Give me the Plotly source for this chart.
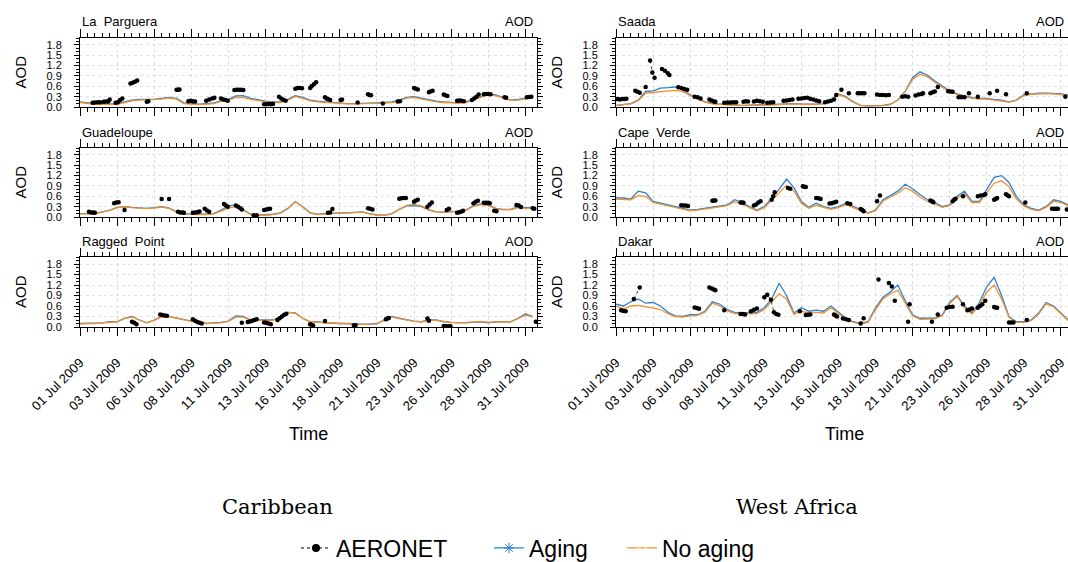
import numpy as np
import pandas as pd
import plotly.graph_objects as go

# ---------------- data ----------------
start = pd.Timestamp("2009-07-01")
model_days = np.arange(0, 31, 0.5)  # 12-hourly model output, days since 01 Jul 2009

sites = ["La  Parguera", "Saada", "Guadeloupe", "Cape  Verde", "Ragged  Point", "Dakar"]
region_labels = ["Caribbean", "West Africa"]
series_names = ["AERONET", "Aging", "No aging"]

# La Parguera
lp_aging = [0.15,0.12,0.10,0.10,0.08,0.10,0.15,0.20,0.22,0.22,
            0.22,0.25,0.28,0.25,0.12,0.10,0.08,0.10,0.12,0.18,
            0.22,0.32,0.33,0.25,0.20,0.17,0.15,0.15,0.22,0.33,
            0.28,0.20,0.17,0.15,0.13,0.12,0.10,0.10,0.10,0.12,
            0.12,0.13,0.15,0.20,0.28,0.30,0.25,0.20,0.17,0.15,
            0.13,0.12,0.15,0.22,0.30,0.38,0.35,0.28,0.20,0.22,
            0.25,0.30]
lp_noaging = [0.13,0.10,0.08,0.08,0.07,0.08,0.13,0.18,0.20,0.21,
              0.21,0.23,0.26,0.23,0.10,0.08,0.07,0.08,0.10,0.16,
              0.20,0.27,0.27,0.22,0.18,0.15,0.13,0.13,0.20,0.30,
              0.25,0.18,0.15,0.13,0.12,0.11,0.09,0.09,0.09,0.10,
              0.10,0.11,0.13,0.18,0.26,0.28,0.23,0.18,0.15,0.13,
              0.12,0.11,0.13,0.20,0.28,0.36,0.33,0.26,0.19,0.20,
              0.23,0.27]
lp_obs_day = [0.85,1.0,1.2,1.35,None,1.6,1.75,1.9,2.0,None,2.4,2.55,2.7,2.85,None,
              3.4,3.55,3.7,3.85,None,4.5,4.6,None,6.5,6.6,6.7,None,7.3,7.45,7.6,7.75,None,
              8.5,8.7,8.9,9.05,None,9.5,9.65,9.8,9.95,None,10.4,10.55,10.7,10.85,11.0,None,
              12.4,12.55,12.7,12.85,13.0,None,13.4,13.55,13.7,13.85,None,14.5,14.65,14.8,14.95,None,
              15.5,15.6,15.75,15.9,None,16.5,16.6,16.7,16.85,None,17.55,17.65,None,18.7,None,
              19.4,19.5,19.6,None,20.4,None,21.4,21.55,None,22.5,22.6,22.75,None,23.5,23.6,23.75,None,
              24.5,24.6,24.75,None,25.4,25.55,25.7,25.85,None,26.4,26.55,26.7,26.85,None,
              27.2,27.35,27.5,27.65,None,28.6,28.7,None,30.1,30.25,30.4]
lp_obs_aod = [0.12,0.13,0.14,0.14,None,0.15,0.16,0.16,0.22,None,0.12,0.14,0.20,0.25,None,
              0.68,0.70,0.73,0.77,None,0.15,0.17,None,0.50,0.50,0.51,None,0.17,0.18,0.17,0.16,None,
              0.18,0.22,0.25,0.27,None,0.25,0.22,0.20,0.18,None,0.49,0.50,0.50,0.50,0.49,None,
              0.08,0.08,0.09,0.08,0.09,None,0.30,0.25,0.21,0.18,None,0.53,0.55,0.55,0.54,None,
              0.55,0.60,0.66,0.72,None,0.28,0.25,0.23,0.20,None,0.20,0.22,None,0.13,None,
              0.37,0.35,0.34,None,0.10,None,0.16,0.17,None,0.55,0.53,0.51,None,0.43,0.45,0.47,None,
              0.36,0.34,0.32,None,0.18,0.19,0.18,0.17,None,0.20,0.25,0.30,0.36,None,
              0.37,0.38,0.38,0.37,None,0.28,0.27,None,0.28,0.29,0.30]

# Guadeloupe
gu_aging = [0.10,0.10,0.10,0.15,0.20,0.28,0.30,0.28,0.27,0.25,
            0.27,0.30,0.26,0.15,0.10,0.08,0.08,0.08,0.10,0.20,
            0.32,0.35,0.22,0.08,0.05,0.06,0.08,0.12,0.25,0.45,
            0.30,0.12,0.08,0.10,0.12,0.12,0.12,0.14,0.15,0.10,
            0.06,0.05,0.10,0.22,0.32,0.33,0.30,0.20,0.15,0.14,
            0.15,0.17,0.20,0.33,0.38,0.35,0.25,0.22,0.22,0.30,
            0.27,0.28]
gu_noaging = [0.09,0.09,0.09,0.14,0.19,0.27,0.29,0.27,0.26,0.24,
              0.26,0.29,0.25,0.14,0.09,0.07,0.07,0.07,0.09,0.17,
              0.26,0.30,0.20,0.07,0.05,0.05,0.07,0.11,0.24,0.44,
              0.29,0.11,0.07,0.09,0.11,0.11,0.11,0.13,0.14,0.09,
              0.05,0.05,0.09,0.22,0.34,0.37,0.32,0.21,0.15,0.14,
              0.14,0.16,0.19,0.31,0.36,0.33,0.24,0.21,0.21,0.27,
              0.25,0.26]
gu_obs_day = [0.6,0.75,0.9,1.0,None,2.3,2.45,2.6,None,3.0,None,5.5,None,6.0,None,
              6.6,6.75,6.9,7.0,None,7.6,7.75,7.9,8.05,None,8.4,8.55,8.7,None,9.7,9.8,9.95,None,
              10.5,10.65,10.8,10.9,None,11.7,11.9,None,12.4,12.55,12.7,12.8,None,16.7,16.85,None,17.0,None,
              19.4,19.55,19.7,None,21.5,21.65,21.8,21.95,None,22.5,22.6,22.75,None,23.4,23.55,23.7,None,
              24.7,24.85,None,25.4,25.55,25.7,25.8,None,26.5,26.65,26.8,None,27.2,27.35,27.5,27.6,None,
              27.9,28.05,None,29.4,29.55,29.7,None,30.5,30.6]
gu_obs_aod = [0.15,0.13,0.13,0.12,None,0.40,0.42,0.43,None,0.20,None,0.52,None,0.52,None,
              0.15,0.13,0.13,0.12,None,0.12,0.13,0.14,0.16,None,0.24,0.19,0.15,None,0.38,0.34,0.30,None,
              0.33,0.30,0.25,0.22,None,0.05,0.05,None,0.20,0.22,0.23,0.24,None,0.12,0.13,None,0.23,None,
              0.25,0.24,0.22,None,0.53,0.54,0.55,0.55,None,0.44,0.47,0.50,None,0.30,0.36,0.42,None,
              0.20,0.24,None,0.12,0.14,0.16,0.18,None,0.40,0.44,0.47,None,0.41,0.41,0.41,0.40,None,
              0.18,0.17,None,0.35,0.33,0.29,None,0.25,0.24]

# Ragged Point
rp_aging = [0.10,0.10,0.10,0.12,0.15,0.15,0.25,0.30,0.20,0.12,
            0.20,0.30,0.30,0.25,0.20,0.17,0.15,0.10,0.12,0.13,
            0.17,0.32,0.30,0.20,0.20,0.20,0.20,0.30,0.42,0.40,
            0.25,0.15,0.15,0.12,0.10,0.10,0.10,0.08,0.08,0.08,
            0.10,0.20,0.30,0.25,0.20,0.17,0.15,0.20,0.20,0.15,
            0.13,0.12,0.12,0.14,0.15,0.12,0.15,0.15,0.15,0.25,
            0.37,0.30]
rp_noaging = [0.09,0.09,0.10,0.12,0.14,0.15,0.24,0.29,0.20,0.12,
              0.19,0.29,0.30,0.25,0.19,0.16,0.14,0.10,0.11,0.12,
              0.16,0.28,0.28,0.20,0.19,0.19,0.19,0.29,0.42,0.40,
              0.25,0.15,0.14,0.12,0.10,0.09,0.09,0.08,0.07,0.08,
              0.09,0.19,0.29,0.24,0.19,0.16,0.15,0.19,0.19,0.15,
              0.13,0.12,0.13,0.15,0.16,0.14,0.15,0.15,0.15,0.24,
              0.34,0.29]
rp_obs_day = [3.5,3.65,3.8,None,5.4,5.55,5.7,5.85,None,7.6,7.75,7.9,8.05,8.2,None,10.9,None,
              11.3,11.45,11.6,11.75,11.9,None,12.4,12.55,12.7,12.85,None,13.3,13.45,13.6,13.75,13.9,None,
              15.5,15.6,15.7,None,16.5,None,18.45,18.55,None,20.6,20.7,20.8,None,23.4,23.5,None,
              24.5,24.65,24.8,24.95,None,30.7]
rp_obs_aod = [0.15,0.12,0.08,None,0.36,0.34,0.33,0.32,None,0.22,0.18,0.14,0.12,0.10,None,0.12,None,
              0.14,0.16,0.18,0.20,0.22,None,0.13,0.12,0.10,0.08,None,0.20,0.25,0.30,0.35,0.38,None,
              0.08,0.06,0.04,None,0.17,None,0.05,0.05,None,0.22,0.24,0.26,None,0.24,0.18,None,
              0.03,0.02,0.02,0.02,None,0.15]

# Saada
sa_aging = [0.05,0.07,0.10,0.20,0.45,0.47,0.55,0.56,0.58,0.50,
            0.35,0.25,0.15,0.10,0.08,0.07,0.06,0.05,0.05,0.05,
            0.05,0.07,0.08,0.10,0.10,0.09,0.08,0.08,0.10,0.20,
            0.38,0.30,0.15,0.05,0.03,0.03,0.05,0.08,0.20,0.45,
            0.85,1.02,0.92,0.75,0.60,0.47,0.38,0.33,0.27,0.25,
            0.25,0.22,0.20,0.15,0.20,0.35,0.38,0.40,0.40,0.40,
            0.38,0.35]
sa_noaging = [0.04,0.06,0.09,0.18,0.40,0.42,0.45,0.47,0.48,0.45,
              0.33,0.23,0.14,0.09,0.07,0.06,0.05,0.04,0.04,0.04,
              0.04,0.06,0.07,0.09,0.09,0.08,0.07,0.07,0.09,0.18,
              0.36,0.28,0.14,0.05,0.03,0.03,0.04,0.07,0.20,0.45,
              0.80,0.95,0.88,0.72,0.57,0.45,0.36,0.31,0.25,0.23,
              0.23,0.20,0.18,0.14,0.19,0.33,0.37,0.39,0.39,0.38,
              0.36,0.33]
sa_obs_day = [0.1,0.25,0.4,0.55,0.7,None,1.3,1.45,1.6,None,2.0,None,2.3,2.45,2.6,None,3.1,3.3,3.5,3.6,None,
              4.2,4.4,4.6,4.8,None,5.3,5.5,5.7,None,6.3,6.45,6.6,6.7,None,7.3,7.5,7.7,7.9,8.1,None,
              8.6,8.75,8.9,None,9.3,9.5,9.7,9.9,None,10.2,10.4,10.6,None,11.3,11.5,11.7,11.9,None,
              12.3,12.5,12.7,12.9,None,13.1,13.3,13.5,13.7,None,14.1,14.3,14.5,14.7,14.85,None,15.2,None,15.7,None,
              16.3,16.45,16.6,16.75,None,17.6,17.8,18.0,18.2,18.4,None,19.3,19.5,19.7,None,
              20.2,20.4,20.6,20.7,None,21.2,21.35,21.5,None,21.7,None,22.4,22.55,22.7,None,23.1,23.3,23.5,None,
              23.8,None,24.4,None,25.2,None,25.7,None,26.3,None,27.7,None,30.3]
sa_obs_aod = [0.23,0.22,0.23,0.23,0.24,None,0.47,0.44,0.41,None,0.58,None,1.35,1.00,0.85,None,1.10,1.05,0.98,0.93,None,
              0.57,0.55,0.52,0.50,None,0.30,0.28,0.25,None,0.22,0.19,0.16,0.15,None,0.12,0.13,0.13,0.14,0.14,None,
              0.15,0.17,0.16,None,0.16,0.18,0.17,0.15,None,0.12,0.13,0.14,None,0.18,0.19,0.20,0.22,None,
              0.24,0.25,0.26,0.27,None,0.24,0.22,0.19,0.17,None,0.14,0.16,0.18,0.22,0.35,None,0.50,None,0.40,None,
              0.40,0.40,0.40,0.40,None,0.36,0.35,0.35,0.34,0.35,None,0.30,0.31,0.30,None,
              0.33,0.36,0.38,0.40,None,0.40,0.43,0.45,None,0.58,None,0.46,0.45,0.44,None,0.28,0.28,0.28,None,
              0.40,None,0.30,None,0.40,None,0.47,None,0.37,None,0.40,None,0.30]

# Cape Verde
cv_aging = [0.55,0.55,0.52,0.75,0.70,0.45,0.40,0.35,0.30,0.25,
            0.20,0.22,0.25,0.30,0.32,0.35,0.50,0.42,0.30,0.20,
            0.30,0.55,0.80,1.10,0.85,0.45,0.28,0.40,0.30,0.25,
            0.30,0.40,0.30,0.20,0.12,0.20,0.50,0.62,0.75,0.95,
            0.82,0.65,0.50,0.42,0.30,0.35,0.60,0.75,0.45,0.45,
            0.80,1.15,1.20,1.00,0.60,0.35,0.25,0.20,0.30,0.50,
            0.45,0.35]
cv_noaging = [0.52,0.52,0.50,0.62,0.60,0.42,0.37,0.33,0.28,0.23,
              0.18,0.20,0.23,0.28,0.30,0.33,0.44,0.38,0.27,0.18,
              0.27,0.50,0.70,0.92,0.75,0.40,0.25,0.34,0.27,0.22,
              0.27,0.36,0.27,0.18,0.11,0.18,0.46,0.58,0.68,0.85,
              0.75,0.58,0.45,0.38,0.28,0.33,0.55,0.68,0.42,0.42,
              0.70,0.98,1.05,0.88,0.52,0.32,0.22,0.18,0.28,0.45,
              0.42,0.32]
cv_obs_day = [4.4,4.55,4.7,4.85,None,6.5,6.6,6.7,None,8.4,8.5,8.6,None,9.3,9.45,9.6,9.75,None,
              10.5,10.6,10.7,None,11.6,11.75,None,12.6,12.7,12.8,None,13.5,13.65,13.8,None,
              14.4,14.55,14.7,14.85,None,15.6,15.8,None,16.5,16.6,16.7,None,17.6,17.8,None,
              21.2,21.3,21.4,None,22.7,22.8,22.9,None,23.4,None,24.4,24.6,24.8,24.9,None,
              25.5,25.6,25.7,None,26.3,26.4,26.5,None,27.6,None,29.4,29.55,29.7,29.8,None,30.4]
cv_obs_aod = [0.34,0.33,0.33,0.32,None,0.47,0.48,0.48,None,0.42,0.42,0.41,None,0.33,0.36,0.42,0.46,None,
              0.50,0.60,0.72,None,0.84,0.82,None,0.89,0.88,0.87,None,0.55,0.54,0.52,None,
              0.39,0.40,0.42,0.44,None,0.40,0.38,None,0.23,0.20,0.17,None,0.46,0.62,None,
              0.48,0.46,0.43,None,0.46,0.50,0.53,None,0.60,None,0.60,0.62,0.64,0.66,None,
              0.50,0.52,0.55,None,0.66,0.63,0.60,None,0.42,None,0.24,0.24,0.24,0.24,None,0.22]

# Dakar
dk_aging = [0.65,0.60,0.72,0.80,0.68,0.70,0.60,0.42,0.32,0.30,
            0.35,0.35,0.45,0.72,0.65,0.50,0.42,0.40,0.40,0.42,
            0.55,0.80,1.25,0.90,0.40,0.55,0.45,0.48,0.45,0.60,
            0.42,0.25,0.15,0.10,0.15,0.55,0.85,1.00,1.20,0.75,
            0.35,0.25,0.25,0.25,0.35,0.70,0.90,0.60,0.40,0.70,
            1.15,1.42,0.90,0.30,0.15,0.15,0.20,0.40,0.70,0.60,
            0.40,0.20]
dk_noaging = [0.60,0.52,0.60,0.62,0.58,0.55,0.50,0.38,0.30,0.28,
              0.32,0.33,0.42,0.68,0.60,0.46,0.38,0.37,0.37,0.38,
              0.50,0.72,0.95,0.80,0.36,0.45,0.40,0.42,0.40,0.55,
              0.38,0.22,0.13,0.09,0.13,0.50,0.80,0.95,1.05,0.70,
              0.32,0.22,0.22,0.23,0.32,0.66,0.88,0.55,0.37,0.62,
              1.00,1.20,0.80,0.28,0.13,0.14,0.18,0.37,0.66,0.58,
              0.38,0.18]
dk_obs_day = [0.35,0.5,0.65,None,1.2,1.6,None,5.3,5.45,5.6,None,6.3,6.45,6.6,6.7,None,7.3,None,
              8.4,8.55,8.7,None,9.1,9.3,9.5,None,10.0,10.2,10.45,10.65,10.8,10.95,None,12.4,None,
              12.8,12.95,13.1,None,14.7,14.8,14.9,None,15.3,15.5,15.7,None,16.5,16.7,None,17.7,None,
              18.4,18.6,None,18.8,None,19.7,None,19.8,None,21.3,None,21.7,None,22.3,22.5,22.7,None,23.4,None,
              23.7,23.85,24.0,None,24.4,24.55,24.7,24.9,None,25.5,25.6,25.7,None,26.5,26.65,26.8,None,27.7]
dk_obs_aod = [0.48,0.46,0.45,None,0.80,1.13,None,0.56,0.54,0.52,None,1.13,1.10,1.07,1.05,None,0.48,None,
              0.37,0.37,0.36,None,0.45,0.49,0.53,None,0.85,0.92,0.78,0.42,0.37,0.35,None,0.45,None,
              0.34,0.35,0.36,None,0.36,0.33,0.30,None,0.24,0.22,0.20,None,0.10,0.25,None,1.36,None,
              1.26,1.16,None,0.75,None,0.15,None,0.65,None,0.15,None,0.36,None,0.55,0.57,0.58,None,0.65,None,
              0.48,0.50,0.53,None,0.55,0.60,0.65,0.75,None,0.57,0.56,0.55,None,0.13,0.13,0.13,None,0.20]

panels = [
    (lp_aging, lp_noaging, lp_obs_day, lp_obs_aod),
    (sa_aging, sa_noaging, sa_obs_day, sa_obs_aod),
    (gu_aging, gu_noaging, gu_obs_day, gu_obs_aod),
    (cv_aging, cv_noaging, cv_obs_day, cv_obs_aod),
    (rp_aging, rp_noaging, rp_obs_day, rp_obs_aod),
    (dk_aging, dk_noaging, dk_obs_day, dk_obs_aod),
]

# ---------------- styling / layout ----------------
W, H = 1068, 562
FONT = "Liberation Sans, Arial, Helvetica, sans-serif"
BLUE = "#2f7fd0"
ORANGE = "#f0922e"

def px_x(x):
    return x / W

def px_y(y):
    return 1 - y / H

col_px = [(80, 537), (616, 1068)]
row_px = [(38, 107), (148, 217), (257, 327)]
col_end_days = [30.78, 30.48]

def to_time(days):
    return [start + pd.Timedelta(days=d) if d is not None else None for d in days]

model_time = to_time(list(model_days))

fig = go.Figure()
annotations = []
layout_axes = {}

for i, (aging, noaging, od, oa) in enumerate(panels):
    row, col = divmod(i, 2)
    n = i + 1
    xa = "x" if n == 1 else f"x{n}"
    ya = "y" if n == 1 else f"y{n}"
    fig.add_trace(go.Scatter(x=model_time, y=aging, mode="lines", xaxis=xa, yaxis=ya,
                             line=dict(color=BLUE, width=1.3), showlegend=False))
    fig.add_trace(go.Scatter(x=model_time, y=noaging, mode="lines", xaxis=xa, yaxis=ya,
                             line=dict(color=ORANGE, width=1.3), showlegend=False))
    fig.add_trace(go.Scatter(x=to_time(od), y=oa, mode="lines+markers", xaxis=xa, yaxis=ya,
                             line=dict(color="black", width=0.8, dash="dot"),
                             marker=dict(color="black", size=4.5), showlegend=False,
                             connectgaps=False))

    x0, x1 = col_px[col]
    y0, y1 = row_px[row]
    end = start + pd.Timedelta(days=col_end_days[col])
    layout_axes["xaxis" if n == 1 else f"xaxis{n}"] = dict(
        domain=[px_x(x0), px_x(x1)], anchor=ya, type="date", automargin=False,
        range=[start, end], tick0=start, dtick=216000000,
        tickformat="%d %b %Y", tickangle=-45,
        ticks="outside", ticklen=8, tickwidth=1, tickcolor="black",
        showline=True, linecolor="black", linewidth=1, mirror="ticks",
        showgrid=True, gridcolor="#dcdcdc", griddash="dot", gridwidth=1,
        zeroline=False, showticklabels=(row == 2),
        tickfont=dict(family=FONT, size=13, color="black"),
        ticklabelstandoff=14,
        minor=dict(dtick=43200000, tick0=start, ticks="outside", ticklen=4,
                   tickcolor="black", showgrid=False),
    )
    layout_axes["yaxis" if n == 1 else f"yaxis{n}"] = dict(
        domain=[px_y(y1), px_y(y0)], anchor=xa, range=[0, 2.0], automargin=False,
        tick0=0, dtick=0.3, tickformat=".1f",
        ticks="outside", ticklen=5, tickwidth=1, tickcolor="black",
        showline=True, linecolor="black", linewidth=1, mirror="ticks",
        showgrid=True, gridcolor="#e2e2e2", griddash="dot", gridwidth=1,
        zeroline=False, tickfont=dict(family=FONT, size=11, color="black"),
        ticklabelstandoff=10,
        minor=dict(dtick=0.1, ticks="outside", ticklen=3, tickcolor="black", showgrid=False),
    )

    annotations.append(dict(text=sites[i], x=px_x(x0), y=px_y(y0 - 16), xref="paper", yref="paper",
                            xanchor="left", yanchor="middle", showarrow=False,
                            font=dict(family=FONT, size=13, color="black")))
    annotations.append(dict(text="AOD", x=px_x(x1 - 2), y=px_y(y0 - 16), xref="paper", yref="paper",
                            xanchor="right", yanchor="middle", showarrow=False,
                            font=dict(family=FONT, size=13, color="black")))
    annotations.append(dict(text="AOD", x=px_x(x0 - 60), y=px_y((y0 + y1) / 2), xref="paper", yref="paper",
                            xanchor="center", yanchor="middle", textangle=-90, showarrow=False,
                            font=dict(family=FONT, size=15, color="black")))

for col in range(2):
    x0, x1 = col_px[col]
    annotations.append(dict(text="Time", x=px_x(x0 + (537 - 80) / 2), y=px_y(434), xref="paper", yref="paper",
                            xanchor="center", yanchor="middle", showarrow=False,
                            font=dict(family=FONT, size=18, color="black")))
    annotations.append(dict(text=region_labels[col], x=px_x([277, 797][col]), y=px_y(507),
                            xref="paper", yref="paper", xanchor="center", yanchor="middle", showarrow=False,
                            font=dict(family="DejaVu Serif, serif", size=21, color="black")))

# legend-only traces, each in its own legend so they can be placed like the original
legend_style = [
    dict(line=dict(color="black", width=1, dash="dot"), marker=dict(color="black", size=8, symbol="circle")),
    dict(line=dict(color=BLUE, width=1.3),
         marker=dict(color=BLUE, size=9, symbol="asterisk-open", line=dict(color=BLUE, width=1))),
    dict(line=dict(color=ORANGE, width=1.3),
         marker=dict(color="white", size=8, symbol="circle-open", line=dict(color=ORANGE, width=1))),
]
legend_ids = ["legend", "legend2", "legend3"]
legend_left_px = [296, 489, 622]
legend_layout = {}
for k in range(3):
    fig.add_trace(go.Scatter(x=[None], y=[None], mode="lines+markers", name=series_names[k],
                             legend=legend_ids[k], **legend_style[k]))
    legend_layout[legend_ids[k]] = dict(
        orientation="h", x=px_x(legend_left_px[k]), xanchor="left", y=px_y(548), yanchor="middle",
        font=dict(family=FONT, size=23, color="black"), bgcolor="rgba(0,0,0,0)", borderwidth=0)

fig.update_layout(
    width=W, height=H, margin=dict(l=0, r=0, t=0, b=0, autoexpand=False),
    paper_bgcolor="white", plot_bgcolor="white",
    font=dict(family=FONT, color="black"),
    annotations=annotations,
    **legend_layout,
    **layout_axes,
)

fig.write_html("out.html")
